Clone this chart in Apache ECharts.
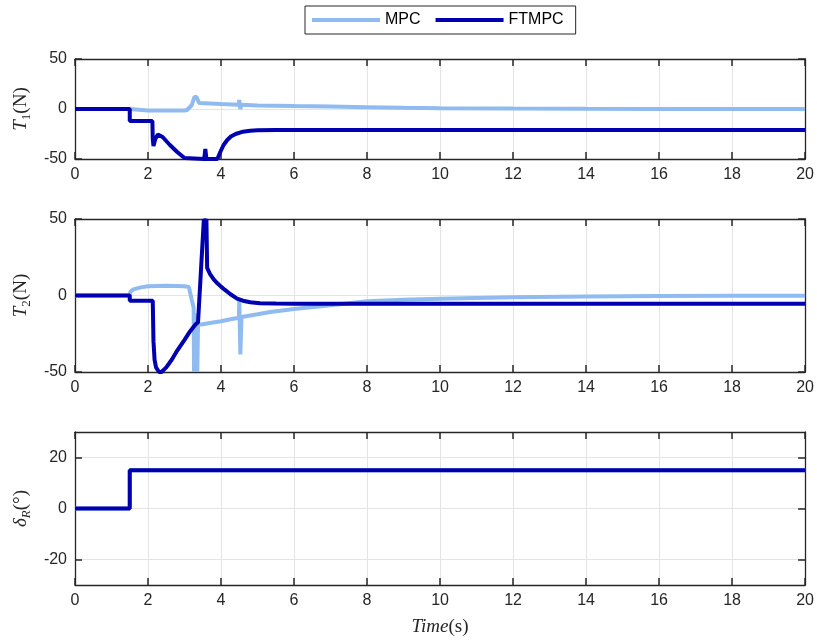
<!DOCTYPE html>
<html>
<head>
<meta charset="utf-8">
<script src="https://cdn.jsdelivr.net/npm/echarts@6/dist/echarts.min.js"></script>
<style>
html,body{margin:0;padding:0;background:#fff;}
#chart{width:817px;height:640px;}
</style>
</head>
<body>
<div id="chart"></div>
<script>
// ---- data ----
const seriesNames = ['MPC', 'FTMPC'];
const xTicks = [0, 2, 4, 6, 8, 10, 12, 14, 16, 18, 20];
const yTicksT = [-50, 0, 50];
const yTicksDelta = [-20, 0, 20];

const timeT1Mpc = [0,1.5,1.55,2.0,2.5,3.0,3.07,3.2,3.27,3.33,3.4,4.0,4.48,4.5,4.53,4.56,5.0,6,7,8,9,10,12,14,16,20];
const valT1Mpc  = [0,0,-1.2,-1.5,-1.5,-1.5,-1,4,12,12,6,5,4.3,9,0,4.2,3.5,2.9,2.4,1.8,1.2,0.8,0.4,0.2,0.1,0];

const timeT1Ft = [0,1.5,1.5,2.12,2.13,2.15,2.2,2.27,2.4,2.6,2.8,3.0,3.05,3.54,3.57,3.6,3.9,3.98,4.07,4.17,4.27,4.4,4.6,4.8,5.0,5.5,6,8,20];
const valT1Ft  = [0,0,-12,-12,-30,-37,-30,-25.5,-28,-36,-43,-49,-50,-50,-40,-50,-50,-43,-36,-31,-27.5,-25,-22.7,-21.8,-21.3,-21,-21,-21,-21];

const timeT2Mpc = [0,1.5,1.52,1.6,1.8,2.0,2.5,3.0,3.12,3.2,3.25,3.26,3.28,3.33,3.35,3.37,3.45,3.7,4.0,4.26,4.49,4.5,4.53,4.56,5.0,5.35,6,7,7.5,8,9,10,12,14,16,18,20];
const valT2Mpc  = [0,0,2.5,4,5.3,6,6.3,6,5.5,-3,-8,-50,-12,-18,-50,-19,-19,-18,-16.8,-15.5,-14.5,-2.5,-38.5,-14,-12.3,-10.8,-8.8,-6.3,-5,-3.8,-2.8,-2.1,-1.2,-0.7,-0.4,-0.2,-0.1];

const timeT2Ft = [0,1.5,1.5,2.13,2.15,2.18,2.22,2.3,2.37,2.5,2.65,2.8,3.0,3.15,3.3,3.37,3.53,3.56,3.6,3.62,3.7,3.8,3.9,4.0,4.1,4.26,4.44,4.6,4.8,5.07,5.5,6,8,20];
const valT2Ft  = [0,0,-3.5,-3.5,-30,-42,-47,-50,-50,-47,-42,-36,-29,-23.5,-19,-17.5,50,48,50,18,14,10.5,8,5.8,3.8,0.8,-2,-3.4,-4.4,-5,-5.3,-5.4,-5.4,-5.4];

const timeDeltaMpc = [0,1.5,1.5,20];
const valDeltaMpc  = [0,0,15,15];
const timeDeltaFt  = [0,1.5,1.5,20];
const valDeltaFt   = [0,0,15,15];

// ---- styling ----
const cLight = '#8fbbf0';
const cDark = '#0000b0';
const axisCol = '#262626';
const gridCol = '#e4e4e4';
const sans = 'Liberation Sans, Arial, sans-serif';
const serif = 'Liberation Serif, Times New Roman, serif';

function zip(t, v) { return t.map((x, i) => [x, v[i]]); }

const grids = [
  {left: 75, top: 59, width: 732, height: 100},
  {left: 75, top: 219, width: 732, height: 153},
  {left: 75, top: 432, width: 732, height: 153}
];

const nameRich = {
  t: {fontFamily: serif, fontStyle: 'italic', fontSize: 19, color: axisCol, lineHeight: 24},
  s: {fontFamily: serif, fontSize: 13, color: axisCol, verticalAlign: 'bottom', lineHeight: 16},
  si: {fontFamily: serif, fontStyle: 'italic', fontSize: 13, color: axisCol, verticalAlign: 'bottom', lineHeight: 16},
  n: {fontFamily: serif, fontSize: 19, color: axisCol, lineHeight: 24}
};

const xAxes = [], yAxes = [];
grids.forEach((g, i) => {
  const common = {
    type: 'value', gridIndex: i, min: xTicks[0], max: xTicks[xTicks.length - 1], interval: 2,
    axisLine: {show: true, onZero: false, lineStyle: {color: axisCol, width: 1.3}},
    axisTick: {show: true, inside: true, length: 7, lineStyle: {color: axisCol, width: 1.5}}
  };
  xAxes.push(Object.assign({}, common, {
    position: 'bottom',
    axisLabel: {show: true, margin: 8, fontFamily: sans, fontSize: 16, color: axisCol},
    splitLine: {show: true, lineStyle: {color: gridCol, width: 1}},
    name: i === 2 ? '{t|Time}{n|(s)}' : '',
    nameLocation: 'middle', nameGap: 30,
    nameTextStyle: {rich: nameRich}
  }));
  xAxes.push(Object.assign({}, common, {
    position: 'top',
    axisLabel: {show: false},
    splitLine: {show: false}
  }));

  const isDelta = i === 2;
  const yc = {
    type: 'value', gridIndex: i,
    min: isDelta ? -30 : -50, max: isDelta ? 30 : 50,
    interval: isDelta ? 10 : 50,
    axisLine: {show: true, onZero: false, lineStyle: {color: axisCol, width: 1.3}},
    axisTick: {show: true, inside: true, length: 7, lineStyle: {color: axisCol, width: 1.5}}
  };
  if (isDelta) {
    yc.axisTick.customValues = yTicksDelta;
  }
  const yl = Object.assign({}, yc, {
    position: 'left',
    axisLabel: {show: true, margin: 8, fontFamily: sans, fontSize: 16, color: axisCol},
    splitLine: {show: true, lineStyle: {color: gridCol, width: 1}},
    name: ['{t|T}{s|1}{n|(N)}', '{t|T}{s|2}{n|(N)}', '{t|δ}{si|R}{n|(°)}'][i],
    nameLocation: 'middle', nameRotate: 90, nameGap: 41,
    nameTextStyle: {rich: nameRich}
  });
  if (isDelta) yl.axisLabel.customValues = yTicksDelta;
  yAxes.push(yl);
  yAxes.push(Object.assign({}, yc, {
    position: 'right',
    axisLabel: {show: false},
    splitLine: {show: false}
  }));
});

const seriesDefs = [
  [timeT1Mpc, valT1Mpc, timeT1Ft, valT1Ft],
  [timeT2Mpc, valT2Mpc, timeT2Ft, valT2Ft],
  [timeDeltaMpc, valDeltaMpc, timeDeltaFt, valDeltaFt]
];
const series = [];
seriesDefs.forEach((d, i) => {
  series.push({
    name: seriesNames[0], type: 'line', xAxisIndex: 2 * i, yAxisIndex: 2 * i,
    data: zip(d[0], d[1]), showSymbol: false, symbol: 'none',
    lineStyle: {color: cLight, width: 4}, itemStyle: {color: cLight},
    clip: true
  });
  series.push({
    name: seriesNames[1], type: 'line', xAxisIndex: 2 * i, yAxisIndex: 2 * i,
    data: zip(d[2], d[3]), showSymbol: false, symbol: 'none',
    lineStyle: {color: cDark, width: 4}, itemStyle: {color: cDark},
    clip: true
  });
});

const chart = echarts.init(document.getElementById('chart'), null, {renderer: 'canvas'});
chart.setOption({
  animation: false,
  backgroundColor: '#ffffff',
  legend: {
    data: seriesNames,
    left: 305, top: 6,
    orient: 'horizontal',
    itemWidth: 68, itemHeight: 4, itemGap: 15,
    icon: 'rect',
    padding: [6, 12, 6, 7],
    borderColor: axisCol, borderWidth: 1,
    backgroundColor: '#fff',
    selectedMode: false,
    textStyle: {fontFamily: sans, fontSize: 16, color: '#000'}
  },
  grid: grids,
  xAxis: xAxes,
  yAxis: yAxes,
  series: series
});
</script>
</body>
</html>
